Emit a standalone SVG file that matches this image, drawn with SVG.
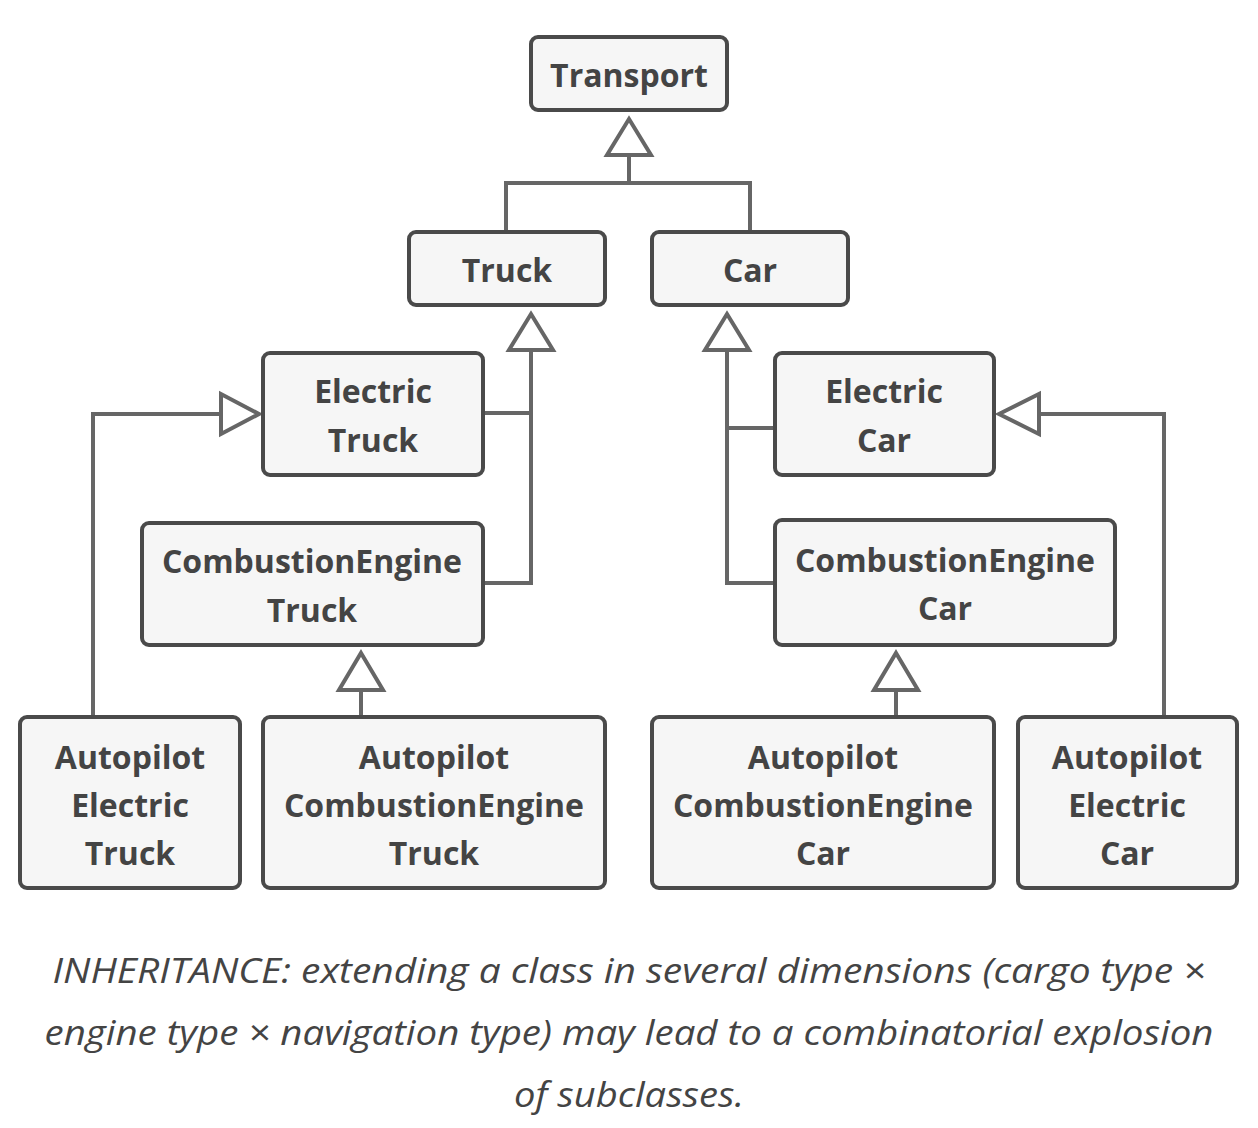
<svg xmlns="http://www.w3.org/2000/svg" width="1258" height="1128" viewBox="0 0 1258 1128">
<style>
.box{fill:#f6f6f6;stroke:#4a4a4a;stroke-width:4}
.lbl{font-family:"Open Sans","Noto Sans",sans-serif;font-weight:700;font-size:32px;fill:#444;text-anchor:middle}
.ln{fill:none;stroke:#666;stroke-width:4}
.tri{fill:#fff;stroke:#666;stroke-width:4;stroke-linejoin:miter}
.cap{font-family:"Open Sans","Noto Sans",sans-serif;font-style:italic;font-size:34px;fill:#444;text-anchor:middle}
</style>
<rect width="1258" height="1128" fill="#fff"/>
<g id="connectors">
<path class="ln" d="M629 155V183M506 232V183H750V232"/>
<polygon class="tri" points="629,119 651,155 607,155"/>
<path class="ln" d="M531 350V583H483M483 413H531"/>
<polygon class="tri" points="531,314 553,350 509,350"/>
<path class="ln" d="M727 350V583H775M727 428H775"/>
<polygon class="tri" points="727,314 749,350 705,350"/>
<path class="ln" d="M221 414H93V717"/>
<polygon class="tri" points="259,414 221,394 221,434"/>
<path class="ln" d="M1039 414H1164V717"/>
<polygon class="tri" points="999,414 1039,394 1039,434"/>
<path class="ln" d="M361 690V717"/>
<polygon class="tri" points="361,653 383,690 339,690"/>
<path class="ln" d="M896 690V717"/>
<polygon class="tri" points="896,653 918,690 874,690"/>
</g>
<g id="transport"><rect class="box" x="531" y="37" width="196" height="73" rx="7"/><text class="lbl" x="629" y="87">Transport</text></g>
<g id="truck"><rect class="box" x="409" y="232" width="196" height="73" rx="7"/><text class="lbl" x="507" y="282">Truck</text></g>
<g id="car"><rect class="box" x="652" y="232" width="196" height="73" rx="7"/><text class="lbl" x="750" y="282">Car</text></g>
<g id="electric-truck"><rect class="box" x="263" y="353" width="220" height="122" rx="7"/><text class="lbl" x="373" y="403">Electric</text><text class="lbl" x="373" y="452">Truck</text></g>
<g id="combustion-truck"><rect class="box" x="142" y="523" width="341" height="122" rx="7"/><text class="lbl" x="312" y="573">CombustionEngine</text><text class="lbl" x="312" y="622">Truck</text></g>
<g id="electric-car"><rect class="box" x="775" y="353" width="219" height="122" rx="7"/><text class="lbl" x="884" y="403">Electric</text><text class="lbl" x="884" y="452">Car</text></g>
<g id="combustion-car"><rect class="box" x="775" y="520" width="340" height="125" rx="7"/><text class="lbl" x="945" y="572">CombustionEngine</text><text class="lbl" x="945" y="620">Car</text></g>
<g id="autopilot-electric-truck"><rect class="box" x="20" y="717" width="220" height="171" rx="7"/><text class="lbl" x="130" y="769">Autopilot</text><text class="lbl" x="130" y="817">Electric</text><text class="lbl" x="130" y="865">Truck</text></g>
<g id="autopilot-combustion-truck"><rect class="box" x="263" y="717" width="342" height="171" rx="7"/><text class="lbl" x="434" y="769">Autopilot</text><text class="lbl" x="434" y="817">CombustionEngine</text><text class="lbl" x="434" y="865">Truck</text></g>
<g id="autopilot-combustion-car"><rect class="box" x="652" y="717" width="342" height="171" rx="7"/><text class="lbl" x="823" y="769">Autopilot</text><text class="lbl" x="823" y="817">CombustionEngine</text><text class="lbl" x="823" y="865">Car</text></g>
<g id="autopilot-electric-car"><rect class="box" x="1018" y="717" width="219" height="171" rx="7"/><text class="lbl" x="1127" y="769">Autopilot</text><text class="lbl" x="1127" y="817">Electric</text><text class="lbl" x="1127" y="865">Car</text></g>
<g id="caption">
<text class="cap" x="629" y="983" textLength="1153" lengthAdjust="spacingAndGlyphs">INHERITANCE: extending a class in several dimensions (cargo type ×</text>
<text class="cap" x="629" y="1045" textLength="1169" lengthAdjust="spacingAndGlyphs">engine type × navigation type) may lead to a combinatorial explosion</text>
<text class="cap" x="629" y="1107" textLength="230" lengthAdjust="spacingAndGlyphs">of subclasses.</text>
</g>
</svg>
